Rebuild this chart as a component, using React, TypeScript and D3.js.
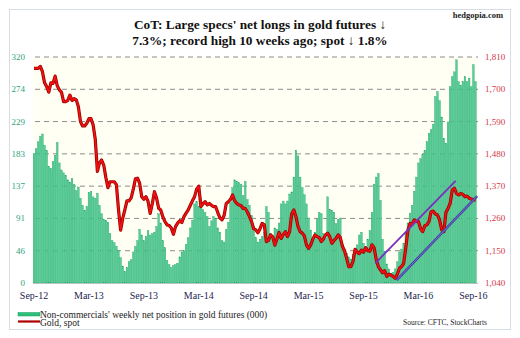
import React from "react";
import * as d3 from "d3";

// Weekly, Sep-2012 .. Sep-2016 (week index 0..209)
const netLongs: number[] = [
  183, 190, 200, 208, 211, 195, 188, 165, 162, 172,
  181, 199, 170, 160, 156, 152, 146, 143, 148, 140,
  131, 136, 120, 110, 103, 108, 128, 130, 122, 120,
  127, 110, 98, 90, 89, 86, 70, 60, 57, 52,
  46, 36, 24, 16, 22, 30, 33, 44, 52, 60,
  76, 68, 60, 66, 74, 68, 70, 72, 80, 98,
  85, 60, 50, 32, 26, 22, 25, 26, 28, 37,
  44, 46, 55, 64, 78, 89, 112, 115, 108, 120,
  104, 100, 94, 80, 88, 94, 92, 78, 72, 60,
  58, 76, 86, 114, 135, 146, 144, 142, 140, 124,
  144, 118, 110, 96, 80, 64, 58, 62, 66, 72,
  108, 100, 70, 62, 78, 76, 85, 112, 116, 112,
  116, 126, 129, 150, 188, 180, 150, 135, 125, 112,
  92, 75, 62, 72, 90, 100, 98, 70, 63, 122,
  104, 103, 100, 84, 90, 92, 55, 47, 42, 37,
  34, 40, 46, 54, 68, 72, 56, 48, 62, 74,
  100, 140, 150, 155, 117, 62, 45, 27, 20, 14,
  15, 20, 30, 44, 48, 56, 70, 85, 99, 110,
  130, 150, 170, 176, 182, 188, 200, 212, 217, 225,
  264, 271, 258, 235, 205, 198, 228, 278, 292, 299,
  316, 285, 280, 285, 292, 285, 290, 278, 309, 285,
];

const goldSpot: number[] = [
  1771, 1771, 1771, 1778, 1760, 1722, 1709, 1690, 1722, 1720,
  1745, 1712, 1698, 1690, 1658, 1658, 1662, 1680, 1662, 1668,
  1664, 1641, 1590, 1575, 1575, 1584, 1600, 1600, 1578, 1530,
  1420, 1449, 1459, 1442, 1400, 1365, 1385, 1385, 1385, 1375,
  1290, 1220, 1260, 1289, 1320, 1320, 1330, 1360, 1395, 1397,
  1380, 1334, 1325, 1334, 1318, 1277, 1310, 1351, 1330, 1295,
  1289, 1265, 1249, 1238, 1236, 1227, 1206, 1232, 1244, 1252,
  1246, 1266, 1278, 1289, 1305, 1320, 1334, 1360, 1370, 1300,
  1310, 1317, 1306, 1311, 1305, 1300, 1300, 1280, 1262, 1255,
  1270, 1311, 1317, 1325, 1340, 1320, 1311, 1306, 1304, 1294,
  1294, 1282, 1266, 1249, 1225, 1221, 1211, 1225, 1243, 1238,
  1181, 1185, 1204, 1198, 1169, 1190, 1212, 1192, 1205, 1215,
  1198, 1215, 1275, 1289, 1266, 1232, 1215, 1210, 1200, 1169,
  1158, 1170, 1190, 1204, 1198, 1195, 1181, 1190, 1204, 1210,
  1198, 1175, 1185, 1192, 1204, 1195, 1165, 1150, 1124, 1096,
  1096, 1113, 1155, 1145, 1140, 1152, 1145, 1160, 1150, 1148,
  1170, 1160, 1120, 1096, 1085, 1075, 1082, 1062, 1070, 1067,
  1062, 1056, 1070, 1090, 1096, 1107, 1160, 1220, 1243, 1240,
  1255, 1250, 1249, 1225, 1215, 1235, 1238, 1250, 1283, 1285,
  1275, 1272, 1255, 1221, 1215, 1280, 1294, 1311, 1357, 1363,
  1345, 1340, 1345, 1342, 1334, 1336, 1329, 1326, 1323, 1323,
];

const leftTicks: number[] = [0, 46, 91, 137, 183, 229, 274, 320];
const rightTicks: number[] = [1040, 1150, 1260, 1370, 1480, 1590, 1700, 1810];
const xTickWeeks: number[] = [0, 26, 52, 78, 104, 130, 156, 182, 208];
const xTickLabels: string[] = ["Sep-12", "Mar-13", "Sep-13", "Mar-14", "Sep-14", "Mar-15", "Sep-15", "Mar-16", "Sep-16"];

// trend channel (week index, gold price)
const channelUpper = [{ w: 161.5, v: 1107 }, { w: 199.6, v: 1388 }];
const channelLower = [{ w: 171.7, v: 1050 }, { w: 209.8, v: 1336 }];

const titleLines = ["CoT: Large specs' net longs in gold futures \u2193", "7.3%; record high 10 weeks ago; spot \u2193 1.8%"];

export default function App() {
  const W = 520, H = 338;
  const left = 33, right = 478, top = 57, bottom = 283;
  const x = d3.scaleLinear().domain([0, 209]).range([34, 475.5]);
  const yL = d3.scaleLinear().domain([0, 320]).range([bottom, top]);
  const yR = d3.scaleLinear().domain([1040, 1810]).range([bottom, top]);
  const step = x(1) - x(0);
  const bw = step * 0.78;

  const line = d3.line<number>().x((_, i) => x(i)).y((d) => yR(d));
  const goldPath = line(goldSpot) || "";
  const chLine = d3.line<{ w: number; v: number }>().x((d) => x(d.w)).y((d) => yR(d.v));

  const serif = "'Liberation Serif', 'DejaVu Serif', serif";

  return (
    <svg width={W} height={H} style={{ position: "absolute", left: 0, top: 0, background: "#fff" }} fontFamily={serif}>
      <rect x={9.5} y={9.5} width={501} height={320} fill="#fff" stroke="#d6dde6" strokeWidth={1} />
      <rect x={left} y={top} width={right - left} height={bottom - top} fill="#fffff3" />
      {/* gridlines */}
      {rightTicks.slice(1).map((t, i) => (
        <line key={"gr" + i} x1={left + 2} x2={right} y1={yR(t)} y2={yR(t)} stroke="#8c8c8c" strokeWidth={1} strokeDasharray="5,4" />
      ))}
      {/* bars */}
      {netLongs.map((v, i) => (
        <rect key={"b" + i} x={x(i) - bw / 2} y={yL(v)} width={bw} height={bottom - yL(v)} fill="#58cd97" stroke="#19a566" strokeWidth={0.35} />
      ))}
      <line x1={left} x2={right} y1={bottom + 0.5} y2={bottom + 0.5} stroke="#b8c4c0" strokeWidth={1} />
      {/* gold */}
      <path d={goldPath} fill="none" stroke="#9a0000" strokeWidth={3.2} strokeLinejoin="round" />
      <path d={goldPath} fill="none" stroke="#f01010" strokeWidth={1.7} strokeLinejoin="round" />
      {/* channel */}
      <path d={chLine(channelUpper) || ""} fill="none" stroke="#7a2fc0" strokeWidth={1.8} />
      <path d={chLine(channelLower) || ""} fill="none" stroke="#3b3fa0" strokeWidth={2.4} />
      <path d={chLine(channelLower) || ""} fill="none" stroke="#9a7ae0" strokeWidth={0.8} />
      {/* left axis */}
      {leftTicks.map((t, i) => (
        <text key={"l" + i} x={25} y={yL((i * 320) / 7) + 3} textAnchor="end" fontSize={9} fill="#2fa37c">{t}</text>
      ))}
      {/* right axis */}
      {rightTicks.map((t, i) => (
        <text key={"r" + i} x={485} y={yR(t) + 3} textAnchor="start" fontSize={9} fill="#d2384a">{d3.format(",")(t)}</text>
      ))}
      {/* x axis */}
      {xTickWeeks.map((w, i) => (
        <text key={"x" + i} x={x(w)} y={298.5} textAnchor="middle" fontSize={10} fill="#1d2550">{xTickLabels[i]}</text>
      ))}
      {/* title */}
      <text x={260} y={29} textAnchor="middle" fontSize={13.3} fontWeight="bold" fill="#111">{titleLines[0]}</text>
      <text x={260} y={45} textAnchor="middle" fontSize={13.3} fontWeight="bold" fill="#111">{titleLines[1]}</text>
      <text x={503} y={18} textAnchor="end" fontSize={8.5} fontWeight="bold" fill="#222">hedgopia.com</text>
      {/* legend */}
      <rect x={18} y={312.5} width={22} height={3.5} fill="#2fbf7a" stroke="#15a060" strokeWidth={0.5} />
      <text x={40} y={317.5} fontSize={9.5} fill="#222">Non-commercials' weekly net position in gold futures (000)</text>
      <line x1={18} x2={40} y1={321.5} y2={321.5} stroke="#b00000" strokeWidth={2.2} />
      <text x={40} y={326} fontSize={9.5} fill="#222">Gold, spot</text>
      <text x={487} y={324.5} textAnchor="end" fontSize={7.5} fill="#222">Source: CFTC, StockCharts</text>
    </svg>
  );
}
